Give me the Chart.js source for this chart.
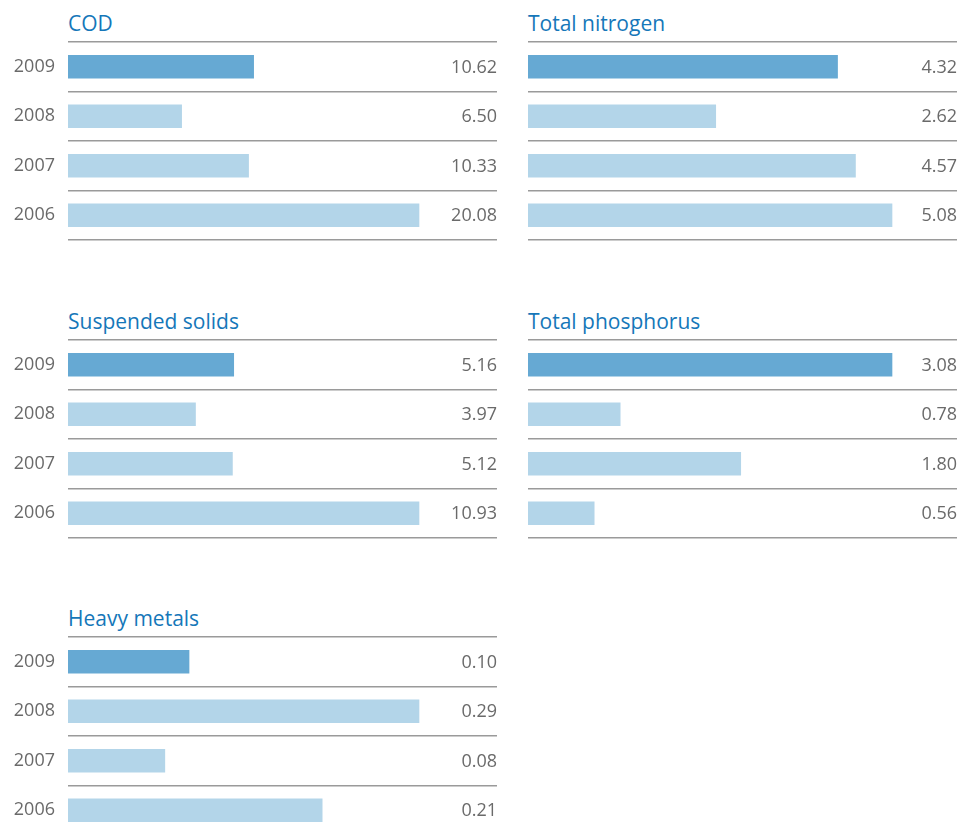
<!DOCTYPE html>
<html>
<head>
<meta charset="utf-8">
<script src="https://cdn.jsdelivr.net/npm/chart.js@4.4.1/dist/chart.umd.min.js"></script>
<style>
  html, body { margin: 0; padding: 0; background: #fff; overflow: hidden; }
  body { width: 966px; height: 831px; position: relative; font-family: "Open Sans", sans-serif; }
  .title { position: absolute; color: #1577b9; font-size: 21px; line-height: 21px; white-space: nowrap; }
  .panel { position: absolute; width: 500px; height: 206px; }
</style>
</head>
<body>
<script>
const years = ['2009', '2008', '2007', '2006'];
const cod = [10.62, 6.50, 10.33, 20.08];
const nitrogen = [4.32, 2.62, 4.57, 5.08];
const solids = [5.16, 3.97, 5.12, 10.93];
const phosphorus = [3.08, 0.78, 1.80, 0.56];
const metals = [0.10, 0.29, 0.08, 0.21];

const panels = [
    { title: 'COD', values: cod, col: 0, row: 0 },
    { title: 'Total nitrogen', values: nitrogen, col: 1, row: 0 },
    { title: 'Suspended solids', values: solids, col: 0, row: 1 },
    { title: 'Total phosphorus', values: phosphorus, col: 1, row: 1 },
    { title: 'Heavy metals', values: metals, col: 0, row: 2 }
];

const rowTops = [42, 339.5, 637];
const colLeft = [0, 460];
const fill = [351 / 429, 364 / 429];

// value labels at the right end of every row
const valueLabels = {
    id: 'valueLabels',
    afterDatasetsDraw(chart) {
        const ctx = chart.ctx;
        const area = chart.chartArea;
        const meta = chart.getDatasetMeta(0);
        ctx.save();
        ctx.font = '18px "Open Sans"';
        ctx.fillStyle = '#6a6a6a';
        ctx.textAlign = 'right';
        ctx.textBaseline = 'middle';
        meta.data.forEach((bar, i) => {
            ctx.fillText(chart.data.datasets[0].data[i].toFixed(2), area.right, bar.y + 1);
        });
        ctx.restore();
    }
};

panels.forEach(p => {
    const top = rowTops[p.row];
    const left = colLeft[p.col];

    const title = document.createElement('div');
    title.className = 'title';
    title.textContent = p.title;
    title.style.left = (left + 68) + 'px';
    title.style.top = (top - 29) + 'px';
    document.body.appendChild(title);

    const wrap = document.createElement('div');
    wrap.className = 'panel';
    wrap.style.left = left + 'px';
    wrap.style.top = (top - 4) + 'px';
    const canvas = document.createElement('canvas');
    wrap.appendChild(canvas);
    document.body.appendChild(wrap);

    new Chart(canvas, {
        type: 'bar',
        data: {
            labels: years,
            datasets: [{
                data: p.values,
                backgroundColor: p.values.map((v, i) => i === 0 ? '#66a9d3' : '#b3d5e9'),
                barThickness: 23
            }]
        },
        options: {
            indexAxis: 'y',
            responsive: true,
            maintainAspectRatio: false,
            animation: false,
            layout: { padding: { top: 4, bottom: 4, left: 0, right: 3 } },
            scales: {
                x: {
                    display: false,
                    min: 0,
                    max: Math.max(...p.values) / fill[p.col]
                },
                y: {
                    afterFit(scale) {
                        scale.width = 68;
                        scale.paddingTop = 0;
                        scale.paddingBottom = 0;
                    },
                    border: { display: false },
                    grid: { color: '#9a9a9a', lineWidth: 1.5, drawTicks: false },
                    ticks: {
                        display: p.col === 0,
                        padding: 13,
                        color: '#6a6a6a',
                        font: { family: 'Open Sans', size: 18 }
                    }
                }
            },
            plugins: {
                legend: { display: false },
                tooltip: { enabled: false }
            }
        },
        plugins: [valueLabels]
    });
});
</script>
</body>
</html>
